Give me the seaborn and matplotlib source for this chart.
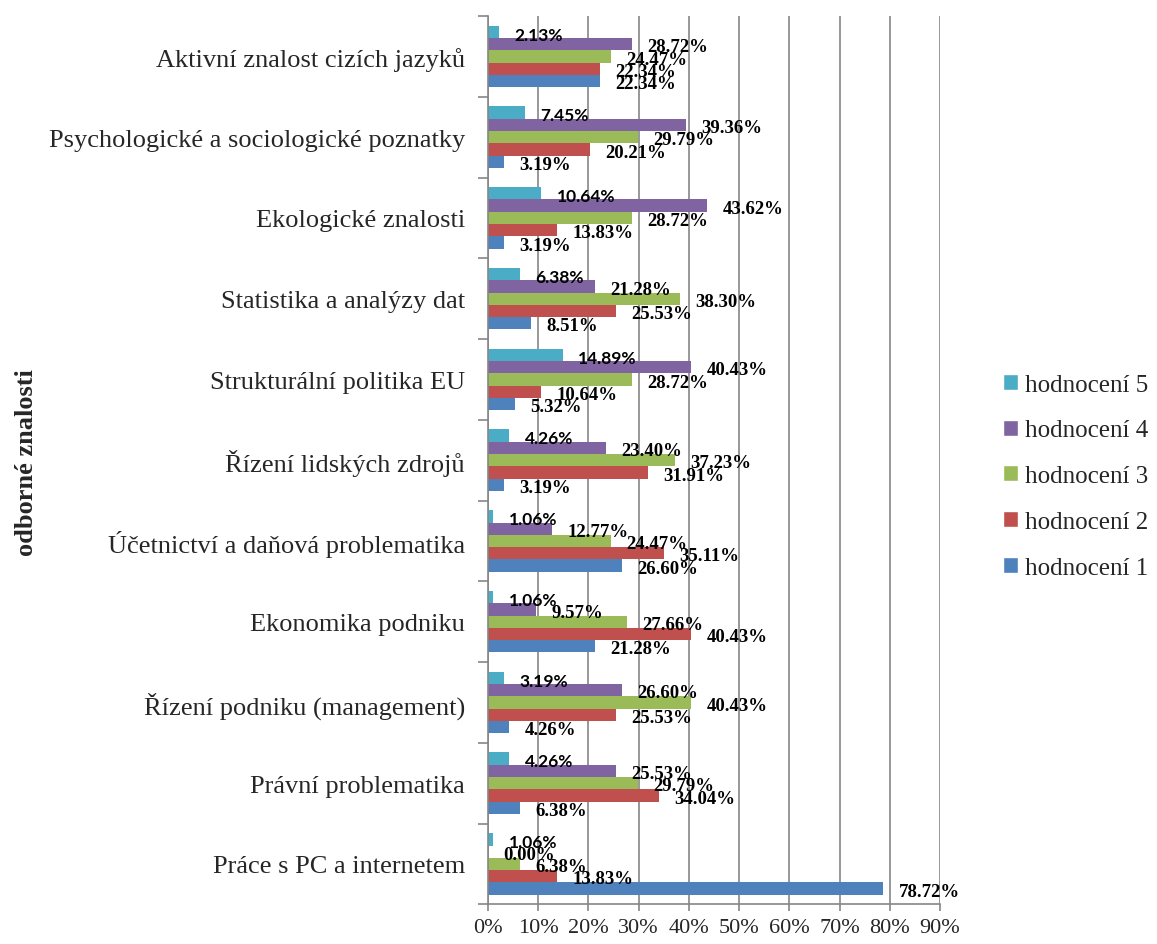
import pandas as pd
import matplotlib.pyplot as plt
import seaborn as sns
from matplotlib.patches import Patch
from matplotlib.ticker import FixedLocator

sns.set_style('white')
plt.rcParams['font.family'] = ['Liberation Serif', 'DejaVu Serif']

categories = [
    'Aktivní znalost cizích jazyků',
    'Psychologické a sociologické poznatky',
    'Ekologické znalosti',
    'Statistika a analýzy dat',
    'Strukturální politika EU',
    'Řízení lidských zdrojů',
    'Účetnictví a daňová problematika',
    'Ekonomika podniku',
    'Řízení podniku (management)',
    'Právní problematika',
    'Práce s PC a internetem',
]

h1 = [22.34, 3.19, 3.19, 8.51, 5.32, 3.19, 26.60, 21.28, 4.26, 6.38, 78.72]
h2 = [22.34, 20.21, 13.83, 25.53, 10.64, 31.91, 35.11, 40.43, 25.53, 34.04, 13.83]
h3 = [24.47, 29.79, 28.72, 38.30, 28.72, 37.23, 24.47, 27.66, 40.43, 29.79, 6.38]
h4 = [28.72, 39.36, 43.62, 21.28, 40.43, 23.40, 12.77, 9.57, 26.60, 25.53, 0.00]
h5 = [2.13, 7.45, 10.64, 6.38, 14.89, 4.26, 1.06, 1.06, 3.19, 4.26, 1.06]

series = ['hodnocení 5', 'hodnocení 4', 'hodnocení 3', 'hodnocení 2', 'hodnocení 1']
values = {'hodnocení 1': h1, 'hodnocení 2': h2, 'hodnocení 3': h3,
          'hodnocení 4': h4, 'hodnocení 5': h5}
colors = {'hodnocení 1': '#4F81BD', 'hodnocení 2': '#C0504D', 'hodnocení 3': '#9BBB59',
          'hodnocení 4': '#8064A2', 'hodnocení 5': '#4BACC6'}

x_ticks = [0, 10, 20, 30, 40, 50, 60, 70, 80, 90]

rows = []
for s in series:
    for c, v in zip(categories, values[s]):
        rows.append({'kategorie': c, 'hodnota': v, 'serie': s})
df = pd.DataFrame(rows)

fig = plt.figure(figsize=(11.57, 9.45), dpi=100)
ax = fig.add_axes([0.4218, 0.042, 0.3906, 0.94])

sns.barplot(data=df, y='kategorie', x='hodnota', hue='serie', order=categories,
            hue_order=series, palette=colors, orient='h', width=0.76,
            saturation=1, linewidth=0, legend=False, ax=ax)

# data labels
for s, cont in zip(series, ax.containers):
    for bar in cont:
        w = bar.get_width()
        yc = bar.get_y() + bar.get_height() / 2
        if s == 'hodnocení 5':
            kw = dict(family=['Lato', 'DejaVu Sans'], fontsize=12.5)
        else:
            kw = dict(fontsize=13.5)
        ax.annotate(f'{w:.2f}%', xy=(w, yc), xytext=(11, -2), textcoords='offset points',
                    ha='left', va='center', fontweight='bold', color='black', **kw)

ax.set_xlim(0, 90)
ax.set_ylim(len(categories) - 0.5, -0.5)
ax.set_xticks(x_ticks)
ax.set_xticklabels([f'{t}%' for t in x_ticks], fontsize=16)
ax.tick_params(axis='y', labelsize=19, length=0, pad=16.5)
ax.yaxis.set_minor_locator(FixedLocator([i - 0.5 for i in range(len(categories) + 1)]))
ax.tick_params(axis='y', which='minor', length=7, color='#868686', width=1.2, left=True)
ax.tick_params(axis='x', length=5, color='#868686', width=1.2, bottom=True, pad=5)

ax.grid(axis='x', color='#868686', linewidth=1.2)
ax.set_axisbelow(True)
for side in ['top', 'right']:
    ax.spines[side].set_visible(False)
for side in ['left', 'bottom']:
    ax.spines[side].set_color('#868686')
    ax.spines[side].set_linewidth(1.2)

ax.set_xlabel('')
ax.set_ylabel('')
fig.text(0.023, 0.51, 'odborné znalosti', rotation=90, ha='center', va='center',
         fontsize=19, fontweight='bold')

handles = [Patch(facecolor=colors[s], label=s) for s in series]
fig.legend(handles=handles, loc='center left', bbox_to_anchor=(0.858, 0.495),
           frameon=False, fontsize=18, handlelength=0.6, handleheight=0.6,
           handletextpad=0.3, labelspacing=0.95, borderaxespad=0)

fig.savefig('out.png', dpi=100)
